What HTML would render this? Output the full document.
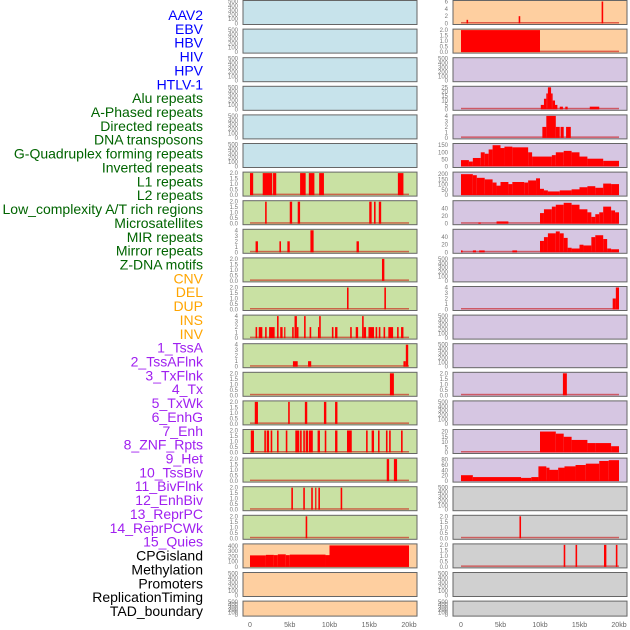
<!DOCTYPE html>
<html><head><meta charset="utf-8">
<style>
html,body{margin:0;padding:0;background:#fff;width:630px;height:630px;overflow:hidden;}
svg{display:block;font-family:"Liberation Sans",sans-serif;}
</style></head>
<body>
<svg id="chart" width="630" height="630" viewBox="0 0 630 630"></svg>
<script>
// ---- data ----
const labels = ["AAV2","EBV","HBV","HIV","HPV","HTLV-1","Alu repeats","A-Phased repeats","Directed repeats","DNA transposons","G-Quadruplex forming repeats","Inverted repeats","L1 repeats","L2 repeats","Low_complexity A/T rich regions","Microsatellites","MIR repeats","Mirror repeats","Z-DNA motifs","CNV","DEL","DUP","INS","INV","1_TssA","2_TssAFlnk","3_TxFlnk","4_Tx","5_TxWk","6_EnhG","7_Enh","8_ZNF_Rpts","9_Het","10_TssBiv","11_BivFlnk","12_EnhBiv","13_ReprPC","14_ReprPCWk","15_Quies","CPGisland","Methylation","Promoters","ReplicationTiming","TAD_boundary"];
const labelGroups = [6,13,5,15,5];
const groupColors = ["#0000ff","#006400","#ffa500","#a020f0","#000000"];
const xTickValues = [0,5,10,15,20];
const xTickLabels = ["0","5kb","10kb","15kb","20kb"];
const T500 = [0,100,200,300,400,500];
const T2 = [0,0.5,1,1.5,2];
const T4 = [0,1,2,3,4];
const leftTicks = [T500,T500,T500,T500,T500,T500,T2,T2,T4,T2,T2,T4,T4,T2,T2,T2,T2,T2,T2,[0,100,200,300,400],T500,T500];
const leftMax = [500,500,500,500,500,500,2,2,4,2,2,4,4,2,2,2,2,2,2,420,500,500];
const rightTicks = [[0,2,4,6],T2,T500,[0,5,10,15,20,25],T4,[0,50,100,150],[0,50,100,150,200],[0,20,40],[0,20,40],T500,T4,T500,T500,T2,T500,[0,5,10,15,20],[0,20,40,60,80],T500,T2,T2,T500,T500];
const rightMax = [6,2,500,25,4,155,210,58,58,500,4,500,500,2,500,21,82,500,2,2,500,500];
const leftColors = ["#c7e3eb","#c7e3eb","#c7e3eb","#c7e3eb","#c7e3eb","#c7e3eb","#c9e1a3","#c9e1a3","#c9e1a3","#c9e1a3","#c9e1a3","#c9e1a3","#c9e1a3","#c9e1a3","#c9e1a3","#c9e1a3","#c9e1a3","#c9e1a3","#c9e1a3","#fecfa0","#fecfa0","#fecfa0"];
const rightColors = ["#fecfa0","#fecfa0","#d6c6e2","#d6c6e2","#d6c6e2","#d6c6e2","#d6c6e2","#d6c6e2","#d6c6e2","#d6c6e2","#d6c6e2","#d6c6e2","#d6c6e2","#d6c6e2","#d6c6e2","#d6c6e2","#d6c6e2","#d0d0d0","#d0d0d0","#d0d0d0","#d0d0d0","#d0d0d0"];
// segments: [startKb, endKb, value]
const leftSegs = [null,null,null,null,null,null,
 [[0,0.4,2],[1.6,2.8,2],[2.9,3.3,2],[6.3,7.0,2],[7.4,8.1,2],[8.7,9.3,2],[18.6,19.3,2]],
 [[1.9,2.1,2],[5.0,5.3,2],[6.0,6.3,2],[15.0,15.3,2],[15.6,15.8,2],[16.2,16.5,2]],
 [[0.7,1.0,2],[3.7,3.9,2],[4.7,5.0,2],[7.6,8.0,4],[13.4,13.7,2]],
 [[16.6,16.9,2]],
 [[12.2,12.4,2],[16.9,17.1,2]],
 [[0.7,0.9,2],[1.1,1.55,2],[1.9,2.1,2],[2.4,3.1,2],[3.4,3.6,4],[3.8,4.1,2],[4.3,4.4,2],[5.3,5.5,2],[5.6,5.9,4],[5.9,6.1,2],[6.8,7.0,4],[7.5,7.7,2],[8.55,8.7,2],[8.7,8.9,4],[10.3,10.5,2],[10.7,11.0,2],[12.6,12.8,2],[13.3,13.6,2],[14.1,14.3,4],[14.3,14.6,2],[14.9,15.6,2],[15.8,16.0,2],[16.2,16.4,2],[16.8,17.0,2],[17.4,18.0,2],[18.5,18.7,2],[19.0,19.3,2]],
 [[5.4,6.0,1],[7.3,7.7,1],[19.3,19.6,1],[19.6,19.9,4]],
 [[17.6,18.1,2]],
 [[0.6,1.0,2],[4.8,5.0,2],[6.9,7.2,2],[9.3,9.6,2],[10.7,11.0,2]],
 [[0.1,0.5,2],[1.8,2.0,2],[2.1,2.4,2],[2.6,2.8,2],[3.4,3.6,2],[4.5,4.7,2],[5.7,6.2,2],[6.3,6.5,2],[6.7,6.9,2],[7.0,7.3,2],[7.4,7.9,2],[8.5,8.8,2],[9.4,9.6,2],[10.7,11.0,2],[12.2,12.8,2],[14.6,14.8,2],[15.3,15.6,2],[16.1,16.3,2],[17.1,17.3,2],[17.5,17.7,2],[19.0,19.2,2]],
 [[17.2,17.5,2],[18.1,18.5,2]],
 [[5.2,5.4,2],[6.7,6.9,2],[7.7,7.9,2],[8.2,8.3,2],[8.6,8.8,2],[11.4,11.6,2]],
 [[7.0,7.2,2]],
 [[0,2,220],[2,3,230],[3,3.5,225],[3.5,4.5,240],[4.5,5,225],[5,9.5,235],[9.5,10,225],[10,20,410]],
 null,null];
const rightSegs = [
 [[0.7,0.9,1],[7.3,7.5,2],[17.8,18.0,6]],
 [[0,10,2]],
 null,
 [[10.1,10.5,5],[10.5,10.8,12],[10.8,11.0,18],[11.0,11.4,25],[11.4,11.6,18],[11.6,11.9,10],[11.9,12.2,5],[12.5,12.9,3],[13.2,13.5,3],[16.3,17.5,3]],
 [[10.3,10.8,2],[10.8,12.0,4],[12.0,12.5,2],[12.6,13.0,2],[13.3,13.9,2]],
 [[0,1,45],[1,1.5,35],[1.5,2.5,60],[2.5,3,100],[3,3.5,90],[3.5,4,120],[4,5,150],[5,5.5,130],[5.5,6.5,140],[6.5,8.5,135],[8.5,9,100],[9,11.5,70],[11.5,12,80],[12,13,100],[13,14,110],[14,15,100],[15,16,70],[16,18,55],[18,20,40]],
 [[0,1.5,200],[1.5,2,190],[2,3,165],[3,4,150],[4,4.5,120],[4.5,5,90],[5,6,125],[6,6.5,105],[6.5,8,125],[8,8.5,120],[8.5,9.5,140],[9.5,10,160],[10,10.5,60],[10.5,11,45],[11,12.5,35],[12.5,14,45],[14,15,55],[15,16,75],[16,17,85],[17,18,70],[18,19,110],[19,20,105]],
 [[2.2,2.5,3],[4.5,6,6],[10,10.5,28],[10.5,11.5,38],[11.5,12,45],[12,13,50],[13,14,55],[14,15,50],[15,16,38],[16,16.5,30],[16.5,17,18],[17,17.5,25],[17.5,18,30],[18,19,45],[19,19.5,35],[19.5,20,30]],
 [[0,0.2,5],[1.5,1.9,5],[2.3,3.0,5],[6.5,7.1,5],[10,10.5,30],[10.5,11,40],[11,12,50],[12,12.5,55],[12.5,13,50],[13,13.5,38],[13.5,14,12],[14,15,10],[15,15.5,20],[15.5,16.5,18],[16.5,17,40],[17,18,45],[18,18.5,35],[18.5,19,10],[19,20,8]],
 null,
 [[19.2,19.6,2],[19.6,20,4]],
 null,null,
 [[12.9,13.4,2]],
 null,
 [[10,12,20],[12,13,18],[13,14,15],[14,15,12],[15,16,12],[16,17,9],[17,19,9],[19,20,6]],
 [[0,1.5,22],[1.5,7.6,15],[7.6,8.9,12],[8.9,9.8,15],[9.8,10.8,55],[10.8,11.2,50],[11.2,12.3,42],[12.3,13.1,50],[13.1,14.5,55],[14.5,15.8,60],[15.8,17.5,65],[17.5,18.7,75],[18.7,20,78]],
 null,
 [[7.4,7.6,2]],
 [[13,13.2,2],[14.5,14.7,2],[18.1,18.4,2],[19.6,19.8,2]],
 null,null];

// ---- drawing ----
const NS = "http://www.w3.org/2000/svg";
const svg = document.getElementById("chart");
function mk(tag, attrs, parent){
  const e = document.createElementNS(NS, tag);
  for (const k in attrs) e.setAttribute(k, attrs[k]);
  (parent||svg).appendChild(e);
  return e;
}
// labels
let li = 0;
labelGroups.forEach((n, g) => {
  for (let j = 0; j < n; j++, li++) {
    const t = mk("text", {x:203, y:15 + li*13.86 + 5, "text-anchor":"end", "font-size":14, fill:groupColors[g]});
    t.textContent = labels[li];
    
    
  }
});
const panels = [{x0:243, x1:417, k0:250, k1:409, ticks:leftTicks, max:leftMax, col:leftColors, segs:leftSegs, tx:238},
                {x0:453, x1:627, k0:461, k1:619, ticks:rightTicks, max:rightMax, col:rightColors, segs:rightSegs, tx:448}];
const nRows = 22;
panels.forEach((P, side) => {
  const xs = kb => P.k0 + (P.k1 - P.k0) * kb / 20;
  for (let i = 0; i < nRows; i++) {
    const top = 0.5 + i*28.6;
    const h = i === nRows-1 ? 15 : 24;
    const bottom = top + h - 1;
    const ys = v => bottom - (bottom - top - 1) * v / P.max[i];
    const g = mk("g", {});
    
    
    mk("rect", {x:P.x0, y:top, width:P.x1-P.x0, height:h, fill:P.col[i], stroke:"#666", "stroke-width":1}, g);
    P.ticks[i].forEach(tv => {
      const t = mk("text", {x:P.tx, y:ys(tv)+2, "text-anchor":"end", "font-size":6, fill:"#777"}, g);
      t.textContent = (P.ticks[i] === T2) ? tv.toFixed(1) : String(tv);
      
      
    });
    const segs = P.segs[i];
    if (segs) {
      mk("rect", {x:xs(0), y:bottom-1.5, width:xs(20)-xs(0), height:1.5, fill:"rgba(200,0,0,0.55)"}, g);
      segs.forEach(s => {
        const r = mk("rect", {x:xs(s[0]), y:ys(s[2]), width:Math.max(1.2, xs(s[1])-xs(s[0])), height:bottom-ys(s[2]), fill:"#ff0000"}, g);
        
        
      });
    }
  }
  xTickValues.forEach((v, j) => {
    const t = mk("text", {x:xs(v), y:627, "text-anchor":"middle", "font-size":7, fill:"#666"});
    t.textContent = xTickLabels[j];
    
    
  });
});
</script>
</body></html>
